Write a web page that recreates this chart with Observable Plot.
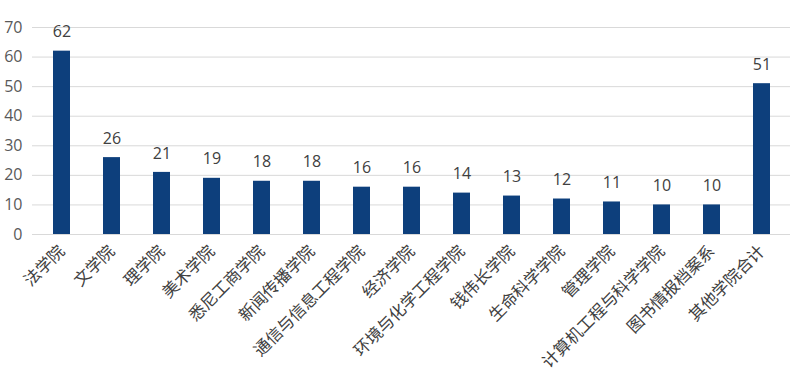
<!DOCTYPE html>
<html>
<head>
<meta charset="utf-8">
<script src="https://cdn.jsdelivr.net/npm/d3@7"></script>
<script src="https://cdn.jsdelivr.net/npm/@observablehq/plot@0.6"></script>
<style>
  html, body { margin: 0; padding: 0; background: #fff; }
  #chart svg { display: block; }
</style>
</head>
<body>
<div id="chart"></div>
<script>
const categories = ["法学院", "文学院", "理学院", "美术学院", "悉尼工商学院", "新闻传播学院", "通信与信息工程学院", "经济学院", "环境与化学工程学院", "钱伟长学院", "生命科学学院", "管理学院", "计算机工程与科学学院", "图书情报档案系", "其他学院合计"];
const values = [62, 26, 21, 19, 18, 18, 16, 16, 14, 13, 12, 11, 10, 10, 51];
const yTicks = [0, 10, 20, 30, 40, 50, 60, 70];

const data = categories.map((c, i) => ({name: c, value: values[i]}));

const chart = Plot.plot({
  width: 800,
  height: 376,
  marginTop: 27,
  marginBottom: 142,
  marginLeft: 32,
  marginRight: 10,
  style: {fontFamily: "'Noto Sans CJK SC', 'Open Sans', sans-serif", background: "#fff"},
  x: {domain: categories, paddingInner: 0.66, paddingOuter: 0.33, label: null},
  y: {domain: [0, 70], label: null},
  marks: [
    Plot.gridY(yTicks, {stroke: "#d9d9d9", strokeOpacity: 1, strokeWidth: 1}),
    Plot.axisY(yTicks, {tickSize: 0, tickPadding: 10, fontSize: 16, fill: "#595959", label: null, fontFamily: "'Open Sans', sans-serif"}),
    Plot.axisX({tickSize: 0, tickRotate: -45, tickPadding: 14, fontSize: 16.5, fill: "#404040", label: null}),
    Plot.barY(data, {x: "name", y: "value", fill: "#0d3f7c"}),
    Plot.text(data, {x: "name", y: "value", text: d => String(d.value), dy: -19, fontSize: 16, fill: "#404040", fontFamily: "'Open Sans', sans-serif"})
  ]
});
document.getElementById("chart").appendChild(chart);
</script>
</body>
</html>
